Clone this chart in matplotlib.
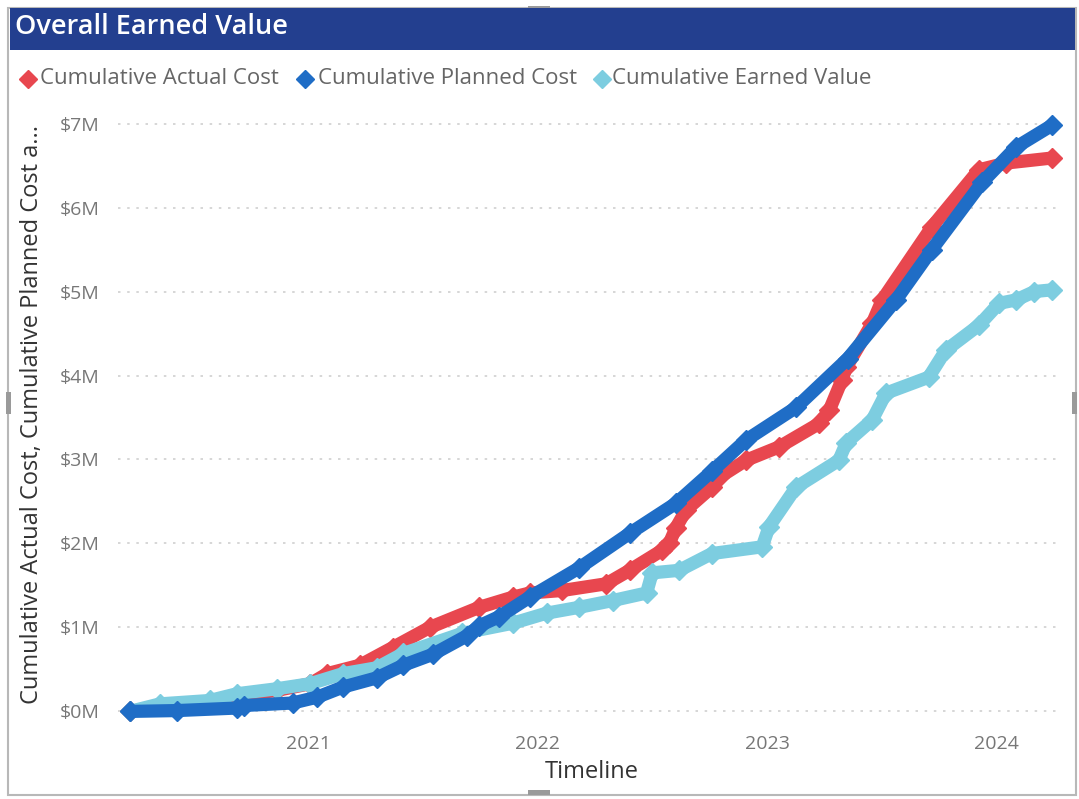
import matplotlib
matplotlib.use("Agg")
import matplotlib.pyplot as plt
from matplotlib.patches import Rectangle
from matplotlib.lines import Line2D
import pandas as pd

# ---------------- data ($M) ----------------
planned_dates = ["2020-03-23", "2020-06-06", "2020-09-09", "2020-09-20", "2020-12-07",
                 "2021-01-15", "2021-02-25", "2021-04-20", "2021-06-01", "2021-07-18",
                 "2021-09-10", "2021-09-30", "2021-11-01", "2021-12-19", "2022-03-08",
                 "2022-05-27", "2022-08-09", "2022-10-05", "2022-11-28", "2023-02-16",
                 "2023-05-09", "2023-07-25", "2023-09-20", "2023-12-09", "2024-02-01",
                 "2024-03-29"]
planned_vals = [0.00, 0.01, 0.04, 0.07, 0.10,
                0.17, 0.29, 0.40, 0.55, 0.68,
                0.90, 1.02, 1.13, 1.36, 1.71,
                2.12, 2.48, 2.86, 3.23, 3.62,
                4.20, 4.90, 5.50, 6.30, 6.72,
                6.98]

actual_dates = ["2020-03-23", "2020-05-10", "2020-07-28", "2020-09-09", "2020-11-12",
                "2021-01-04", "2021-01-31", "2021-03-24", "2021-05-15", "2021-07-13",
                "2021-09-30", "2021-11-22", "2021-12-19", "2022-02-09", "2022-04-20",
                "2022-05-27", "2022-07-18", "2022-07-29", "2022-08-09", "2022-08-25",
                "2022-10-05", "2022-10-17", "2022-11-28", "2023-01-20", "2023-03-25",
                "2023-04-10", "2023-04-30", "2023-05-07", "2023-06-17", "2023-07-03",
                "2023-09-20", "2023-12-04", "2024-01-16", "2024-03-29"]
actual_vals = [0.00, 0.06, 0.12, 0.19, 0.25,
               0.33, 0.45, 0.55, 0.76, 1.00,
               1.24, 1.36, 1.41, 1.44, 1.52,
               1.68, 1.92, 2.00, 2.19, 2.40,
               2.67, 2.79, 2.99, 3.15, 3.43,
               3.59, 3.95, 4.10, 4.62, 4.90,
               5.77, 6.45, 6.53, 6.59]

earned_dates = ["2020-03-23", "2020-05-10", "2020-07-28", "2020-09-09", "2020-11-12",
                "2021-01-04", "2021-02-25", "2021-04-20", "2021-06-01", "2021-09-03",
                "2021-11-22", "2022-01-15", "2022-03-08", "2022-04-30", "2022-06-23",
                "2022-07-02", "2022-08-14", "2022-10-05", "2022-12-24", "2023-01-04",
                "2023-02-16", "2023-04-25", "2023-05-07", "2023-06-17", "2023-07-09",
                "2023-09-15", "2023-10-12", "2023-12-04", "2024-01-05", "2024-02-01",
                "2024-03-01", "2024-03-29"]
earned_vals = [0.00, 0.09, 0.13, 0.21, 0.27,
               0.33, 0.45, 0.52, 0.69, 0.93,
               1.05, 1.17, 1.24, 1.32, 1.41,
               1.65, 1.68, 1.88, 1.96, 2.20,
               2.67, 2.99, 3.20, 3.47, 3.79,
               3.98, 4.30, 4.60, 4.86, 4.90,
               5.00, 5.02]

series_names = ["Cumulative Actual Cost", "Cumulative Planned Cost", "Cumulative Earned Value"]
series_colors = ["#E8474F", "#1F6DC6", "#7DCDE0"]
y_ticks = [0, 1, 2, 3, 4, 5, 6, 7]
y_tick_labels = ["$0M", "$1M", "$2M", "$3M", "$4M", "$5M", "$6M", "$7M"]
x_tick_years = ["2021", "2022", "2023", "2024"]

# ---------------- figure ----------------
plt.rcParams['font.family'] = ['Open Sans', 'DejaVu Sans']
fig = plt.figure(figsize=(10.79, 7.99), dpi=100)
W, H = 1079, 799

def px(x, y):
    return x / W, 1 - y / H

# outer visual border
fig.add_artist(Rectangle((8 / W, 1 - 795 / H), (1076 - 8) / W, (795 - 8) / H,
                         transform=fig.transFigure, fill=False, edgecolor="#B8B8B8", lw=1.5))
# selection handles
for hx, hy, hw, hh in [(528, 6, 22, 5), (528, 790, 22, 5), (6, 392, 5, 22), (1072, 392, 5, 22)]:
    fig.add_artist(Rectangle((hx / W, 1 - (hy + hh) / H), hw / W, hh / H,
                             transform=fig.transFigure, facecolor="#9A9A9A", edgecolor="none"))
# title bar
fig.add_artist(Rectangle((10 / W, 1 - 50 / H), (1075 - 10) / W, (50 - 8) / H,
                         transform=fig.transFigure, facecolor="#233F8F", edgecolor="none"))
fig.text(*px(15, 27), "Overall Earned Value", color="white", fontsize=19.5,
         fontweight="semibold", va="center", ha="left")

# legend (manual row)
leg_x = [28, 305, 602]
leg_tx = [40, 318, 612]
for i, (name, col) in enumerate(zip(series_names, series_colors)):
    fig.add_artist(Line2D([leg_x[i] / W], [1 - 79 / H], marker="D", markersize=9,
                          color=col, transform=fig.transFigure, linestyle="none"))
    fig.text(*px(leg_tx[i], 79), name, color="#666666", fontsize=16,
             va="center", ha="left")

# axes
ax = fig.add_axes([118 / W, 1 - 724 / H, (1062 - 118) / W, (724 - 111) / H])
for s in ax.spines.values():
    s.set_visible(False)

data = [(actual_dates, actual_vals), (earned_dates, earned_vals), (planned_dates, planned_vals)]
order_cols = [series_colors[0], series_colors[2], series_colors[1]]
for z, ((d, v), col) in enumerate(zip(data, order_cols)):
    dd = pd.to_datetime(d)
    ax.plot(dd, v, color=col, lw=9.5, solid_capstyle="round", solid_joinstyle="round",
            marker="D", markersize=10, zorder=3 + z)

ax.set_ylim(-0.15, 7.15)
ax.set_xlim(pd.Timestamp("2020-03-04"), pd.Timestamp("2024-04-14"))
ax.set_yticks(y_ticks)
ax.set_yticklabels(y_tick_labels)
ax.set_xticks(pd.to_datetime([y + "-01-01" for y in x_tick_years]))
ax.set_xticklabels(x_tick_years)
ax.tick_params(axis="both", length=0, labelcolor="#777777", labelsize=14)
ax.tick_params(axis="y", pad=13)
ax.tick_params(axis="x", pad=8)
ax.grid(axis="y", color="#D0D0D0", linestyle=(0, (1.5, 4)), lw=1.2)
ax.set_axisbelow(True)

fig.text(*px(592, 772), "Timeline", fontsize=17, color="#333333", va="center", ha="center")
fig.text(*px(32, 415), "Cumulative Actual Cost, Cumulative Planned Cost a...",
         rotation=90, fontsize=17, color="#333333", va="center", ha="center")

fig.savefig("out.png", dpi=100)
